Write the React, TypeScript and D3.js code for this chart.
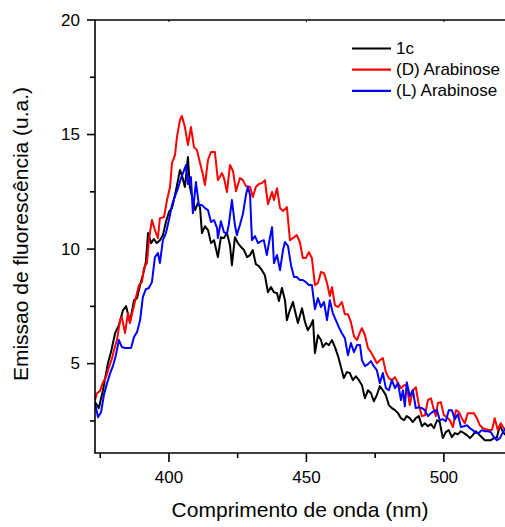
import React from "react";
import * as d3 from "d3";

// ---- Data (wavelength nm, emission a.u.) ----
const blackNm = [373.1,374.5,376.0,377.8,378.9,380.4,381.8,383.3,384.4,385.8,387.3,388.4,389.5,390.5,391.6,392.4,393.5,394.5,395.6,396.7,397.8,398.9,400.0,401.1,402.2,403.3,404.0,404.7,405.8,406.9,407.6,408.7,409.5,410.5,411.3,412.0,413.1,414.2,415.3,416.4,417.8,418.9,420.0,421.1,422.2,422.9,424.0,425.1,426.2,427.3,428.4,429.5,430.5,431.6,432.7,433.8,434.9,436.0,437.1,438.2,439.3,440.0,441.1,442.2,442.9,444.0,445.1,446.2,446.9,448.4,449.5,450.5,451.6,452.4,453.1,454.2,455.3,456.0,457.1,458.2,459.3,460.4,461.5,462.5,463.6,464.7,465.8,466.9,468.0,469.1,470.2,471.3,472.4,473.5,474.5,475.6,476.7,477.8,478.9,480.0,481.1,482.2,483.3,484.4,485.5,486.5,487.6,488.7,489.8,490.9,492.0,493.1,494.2,495.3,496.4,497.5,498.5,499.6,500.7,501.8,502.9,504.0,505.1,506.2,507.3,508.4,509.5,510.5,511.6,512.7,513.8,514.9,516.0,517.1,518.2,519.3,520.4,521.5,522.5];
const blackVal = [3.33,3.06,3.84,5.02,5.5,6.33,6.68,7.34,7.51,6.81,7.77,7.86,8.43,8.87,9.43,10.70,10.26,10.44,10.26,10.39,10.61,11.18,11.62,11.79,12.36,13.01,13.45,13.23,12.71,14.02,12.71,12.14,11.70,12.01,11.83,10.70,11.0,10.83,10.26,10.39,9.65,10.52,10.48,10.70,10.17,9.30,10.52,10.26,10.09,9.96,9.65,9.74,9.96,9.34,9.26,9.08,8.86,8.12,8.34,8.12,8.08,7.73,8.30,7.77,6.90,7.34,7.69,7.12,6.77,7.42,6.81,6.46,6.68,6.90,5.46,6.24,6.03,5.72,5.90,5.81,6.03,5.72,5.33,4.89,4.37,4.63,4.59,4.28,4.45,4.28,4.06,3.49,3.84,3.71,3.36,3.62,4.02,3.84,3.62,3.19,3.06,2.97,2.84,2.62,2.53,2.71,2.62,2.45,2.62,2.71,2.27,2.40,2.27,2.36,2.18,2.53,2.45,1.75,2.01,2.10,1.79,1.97,1.92,2.05,1.97,1.88,1.75,1.88,2.05,1.92,1.79,1.66,1.66,1.66,1.75,1.79,2.31,2.01,1.88];

const redNm = [373.1,373.8,374.9,376.0,377.1,378.2,379.3,380.0,381.1,382.2,382.9,384.0,385.1,385.8,386.9,388.0,389.1,390.2,390.9,392.0,392.7,393.8,394.9,396.0,396.7,398.2,399.3,400.4,401.1,402.2,402.9,404.0,404.7,405.8,406.9,408.0,409.1,410.2,411.3,412.4,413.1,414.2,415.3,416.7,417.8,419.3,420.0,421.1,422.2,423.3,424.4,425.8,426.9,428.0,429.5,430.5,431.6,432.7,433.8,434.9,436.0,437.5,438.2,439.3,440.4,441.5,442.9,444.0,445.1,446.5,447.6,448.7,449.8,450.9,452.0,453.1,454.2,455.3,456.4,457.5,458.5,459.3,460.4,461.5,462.9,464.0,465.1,466.2,467.3,468.4,469.5,470.2,471.3,472.4,473.5,474.5,475.6,476.7,477.8,478.9,480.0,481.1,482.2,483.3,484.4,485.5,486.5,487.6,488.7,489.8,490.9,492.0,493.1,494.2,495.3,496.4,497.1,497.8,498.9,500.0,501.1,502.2,503.3,504.4,505.5,506.5,507.6,508.7,509.8,510.9,512.0,513.1,514.2,515.3,516.4,517.5,518.5,519.6,520.7,521.8,522.9];
const redVal = [3.41,3.71,3.80,4.19,4.41,4.85,5.24,5.59,6.03,6.90,7.03,6.33,7.21,6.77,7.34,7.90,8.43,8.56,9.17,9.39,10.39,11.27,10.83,10.48,11.35,11.40,12.14,12.71,13.76,14.10,14.89,15.63,15.81,15.33,14.54,15.33,14.45,14.32,13.76,13.23,12.79,13.89,14.24,14.24,13.01,13.32,13.10,12.49,13.67,13.41,12.53,13.10,13.01,12.75,12.71,12.27,12.71,12.84,12.88,13.01,11.96,12.49,12.14,12.66,11.79,11.66,11.83,10.39,10.48,10.61,10.31,9.61,9.61,9.87,9.61,8.43,8.52,9.00,8.95,8.52,7.95,8.34,7.55,7.47,7.69,7.16,7.16,6.81,6.20,6.03,6.38,6.55,6.24,5.68,5.50,5.28,5.02,5.15,5.24,4.63,4.37,4.28,4.41,4.15,3.93,4.06,4.06,3.19,3.84,3.97,3.19,2.71,2.75,3.41,3.49,2.97,2.71,3.28,3.32,2.75,2.66,2.53,2.23,2.97,2.88,2.62,2.40,2.84,2.84,2.84,2.62,2.31,2.18,2.14,2.10,2.10,2.62,2.10,2.40,2.18,2.10];

const blueNm = [373.1,374.2,375.3,376.4,377.5,378.5,379.6,380.7,381.8,382.9,384.0,385.1,386.2,387.3,388.4,389.5,390.5,391.6,392.7,393.8,394.9,396.0,396.7,397.8,398.9,400.0,401.1,402.2,403.3,404.4,405.5,406.2,406.9,408.0,408.7,409.8,410.9,412.0,413.1,414.2,415.3,416.4,417.5,417.8,418.9,420.0,421.1,421.8,422.9,424.0,424.7,425.8,426.9,428.0,428.7,429.5,430.2,431.3,432.4,433.5,434.5,435.6,436.7,437.5,438.2,439.3,440.4,441.5,442.2,443.3,444.4,445.5,446.5,447.6,448.7,449.8,450.9,452.0,453.1,454.2,455.3,456.4,457.5,458.5,459.6,460.7,461.8,462.9,464.0,465.1,466.2,467.3,468.4,469.5,470.2,471.3,472.4,473.5,474.5,475.6,476.7,477.8,478.9,480.0,481.1,482.2,483.3,484.4,485.1,485.8,486.5,487.6,488.7,489.8,490.9,492.0,493.1,494.2,495.3,496.4,497.5,498.5,499.6,500.7,501.8,502.9,504.0,505.1,506.2,507.3,508.4,509.5,510.5,511.6,512.7,513.8,514.9,516.0,517.1,518.2,519.3,520.4,521.5,522.5];
const blueVal = [3.28,2.66,2.88,3.67,4.15,4.54,4.89,5.37,6.03,5.72,5.68,5.68,5.68,6.16,6.38,6.90,7.90,8.25,8.30,8.56,9.65,9.83,9.39,10.39,10.70,11.27,11.92,12.31,12.66,13.10,13.45,13.67,12.84,13.14,11.57,12.93,11.92,11.92,11.79,11.70,11.18,11.27,10.92,10.48,11.22,10.74,10.66,11.09,12.14,11.05,10.61,11.05,11.53,12.36,12.71,12.36,10.39,10.57,10.26,10.35,10.39,9.74,10.48,10.96,9.39,9.74,9.08,9.96,10.31,10.13,9.30,8.78,8.78,8.65,8.65,8.56,8.43,8.43,7.38,7.86,7.47,7.69,6.90,7.77,7.21,6.90,6.59,6.33,6.11,5.37,5.90,5.50,5.81,5.81,5.15,4.89,4.98,5.11,4.89,4.72,4.15,4.59,3.93,3.84,4.28,3.93,4.15,3.41,3.84,3.14,4.19,3.58,3.84,3.06,3.10,3.06,2.97,2.71,2.84,2.93,2.97,2.53,2.58,2.49,2.97,2.97,2.58,2.79,2.23,2.27,2.31,2.18,2.10,1.97,1.97,2.10,2.05,2.05,2.01,1.79,1.66,1.75,2.01,2.18];

const seriesNames = ["1c", "(D) Arabinose", "(L) Arabinose"];
const seriesColors = ["#000000", "#ff0000", "#0000ff"];
const xMajorTicks = [400, 450, 500];
const xMinorTicks = [375, 425, 475, 525];
const yMajorTicks = [5, 10, 15, 20];
const yMinorTicks = [2.5, 7.5, 12.5, 17.5];
const xTitle = "Comprimento de onda (nm)";
const yTitle = "Emissao de fluorescência (u.a.)";

const W = 505;
const H = 527;
const left = 95;
const right = 506;
const top = 20;
const bottom = 453;
const FONT = "'Liberation Sans', Arial, Helvetica, sans-serif";

export default function App() {
  const x = d3.scaleLinear().domain([373.1, 522.6]).range([left, right]);
  const y = d3.scaleLinear().domain([1.1, 20]).range([bottom, top]);

  const data = [
    blackNm.map((n, i) => [n, blackVal[i]] as [number, number]),
    redNm.map((n, i) => [n, redVal[i]] as [number, number]),
    blueNm.map((n, i) => [n, blueVal[i]] as [number, number]),
  ];
  const line = d3
    .line<[number, number]>()
    .x((d) => x(d[0]))
    .y((d) => y(d[1]));

  const axisW = 1.6;
  return (
    <svg
      width={W}
      height={H}
      style={{ position: "absolute", left: 0, top: 0, background: "#fff" }}
      fontFamily={FONT}
    >
      <defs>
        <clipPath id="plotClip">
          <rect x={left} y={top} width={right - left} height={bottom - top} />
        </clipPath>
      </defs>
      <rect x={0} y={0} width={W} height={H} fill="#fff" />
      <g clipPath="url(#plotClip)">
        {data.map((d, i) => (
          <path
            key={i}
            d={line(d) || ""}
            fill="none"
            stroke={seriesColors[i]}
            strokeWidth={2}
            strokeLinejoin="round"
          />
        ))}
      </g>
      {/* axes frame */}
      <line x1={left} x2={left} y1={top} y2={bottom} stroke="#000" strokeWidth={axisW} />
      <line x1={left - 0.8} x2={right} y1={bottom} y2={bottom} stroke="#000" strokeWidth={axisW} />
      <line x1={left - 0.8} x2={right} y1={top} y2={top} stroke="#000" strokeWidth={axisW} />
      {/* y ticks */}
      {yMajorTicks.map((t) => (
        <g key={"ym" + t}>
          <line x1={left - 8} x2={left} y1={y(t)} y2={y(t)} stroke="#000" strokeWidth={axisW} />
          <text x={80} y={y(t)} textAnchor="end" dominantBaseline="central" fontSize={17}>
            {t}
          </text>
        </g>
      ))}
      {yMinorTicks.map((t) => (
        <line key={"yn" + t} x1={left - 5} x2={left} y1={y(t)} y2={y(t)} stroke="#000" strokeWidth={axisW} />
      ))}
      {/* x ticks */}
      {xMajorTicks.map((t) => (
        <g key={"xm" + t}>
          <line x1={x(t)} x2={x(t)} y1={bottom} y2={bottom + 9} stroke="#000" strokeWidth={axisW} />
          <line x1={x(t)} x2={x(t)} y1={top} y2={top + 2} stroke="#000" strokeWidth={1} />
          <text x={x(t)} y={483} textAnchor="middle" fontSize={17}>
            {t}
          </text>
        </g>
      ))}
      {xMinorTicks.map((t) => (
        <line key={"xn" + t} x1={x(t)} x2={x(t)} y1={bottom} y2={bottom + 5} stroke="#000" strokeWidth={axisW} />
      ))}
      {/* titles */}
      <text x={300} y={516.5} textAnchor="middle" fontSize={21}>
        {xTitle}
      </text>
      <text
        transform={`translate(28.3,234) rotate(-90)`}
        textAnchor="middle"
        fontSize={21}
      >
        {yTitle}
      </text>
      {/* legend */}
      {seriesNames.map((n, i) => {
        const ly = 48.5 + i * 21.2;
        return (
          <g key={n}>
            <line x1={352} x2={391} y1={ly} y2={ly} stroke={seriesColors[i]} strokeWidth={2.2} />
            <text x={396} y={ly} dominantBaseline="central" fontSize={17}>
              {n}
            </text>
          </g>
        );
      })}
    </svg>
  );
}
